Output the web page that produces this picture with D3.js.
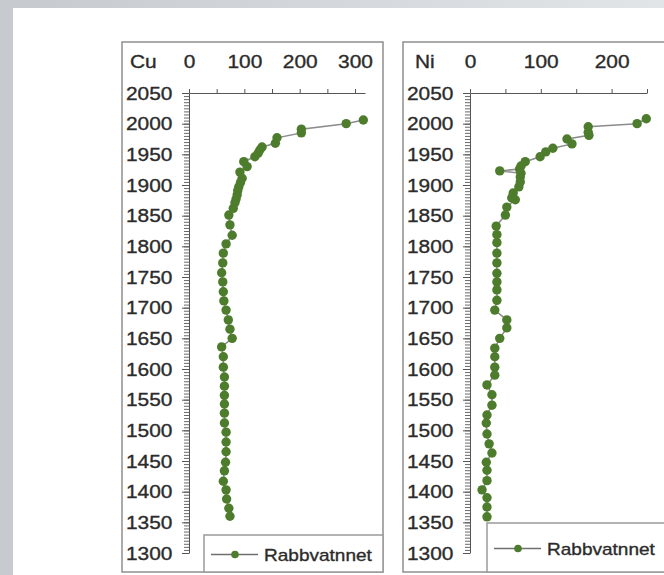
<!DOCTYPE html>
<html>
<head>
<meta charset="utf-8">
<script src="https://cdn.jsdelivr.net/npm/d3@7"></script>
<style>
  html, body { margin: 0; padding: 0; background: #fff; }
  svg { display: block; }
  text { font-family: "Liberation Sans", Arial, sans-serif; fill: #2b2b2b; stroke: #2b2b2b; stroke-width: 0.35px; }
</style>
</head>
<body>
<svg id="chart" width="664" height="575"></svg>
<script>
// year ticks / x ticks
var yearTicks = d3.range(1300, 2051, 50);
var cuTicks = [0, 50, 100, 150, 200, 250, 300];
var niTicks = [0, 50, 100, 150, 200, 250];
var seriesName = "Rabbvatnnet";

// Cu core (year, value)
var cuYears = [2006, 2000, 1991, 1985, 1977, 1968, 1962, 1957, 1952, 1946, 1938, 1930, 1921, 1911, 1904,
  1897, 1891, 1884, 1877, 1871, 1862, 1851, 1835, 1818, 1804, 1789, 1773, 1757, 1742, 1726, 1711, 1696,
  1680, 1665, 1650, 1636, 1620, 1603, 1587, 1572, 1557, 1543, 1528, 1512, 1497, 1481, 1465, 1448, 1434,
  1417, 1403, 1388, 1373, 1360];
var cuValues = [315, 284, 203, 203, 159, 156, 132, 128, 125, 119, 99, 105, 92, 96, 93,
  90, 88, 87, 85, 83, 80, 72, 74, 78, 67, 62, 61, 59, 61, 62, 63, 67,
  71, 74, 78, 59, 62, 62, 64, 64, 64, 64, 64, 64, 67, 67, 67, 66, 64,
  62, 67, 68, 72, 74];

// Ni core (year, value)
var niYears = [2008, 2000, 1995, 1986, 1981, 1975, 1967, 1960, 1954, 1946, 1938, 1931, 1926, 1923, 1919, 1913,
  1905, 1897, 1887, 1879, 1876, 1864, 1851, 1833, 1819, 1806, 1789, 1773, 1756, 1742, 1729, 1712, 1696,
  1680, 1667, 1650, 1634, 1620, 1603, 1590, 1574, 1558, 1541, 1525, 1512, 1494, 1478, 1463, 1448, 1435,
  1418, 1403, 1390, 1375, 1359];
var niValues = [249, 236, 167, 167, 168, 137, 144, 117, 107, 99, 78, 72, 70, 42, 72, 71,
  71, 69, 61, 59, 64, 52, 50, 37, 38, 38, 38, 38, 38, 38, 38, 38, 35,
  52, 52, 42, 35, 35, 35, 35, 24, 31, 31, 24, 23, 24, 27, 31, 23, 24,
  24, 17, 24, 24, 24];

var svg = d3.select("#chart");

// grey page frame like the screenshot
var defs = svg.append("defs");
var grad = defs.append("linearGradient").attr("id", "bg").attr("x1", 0).attr("y1", 0).attr("x2", 1).attr("y2", 0);
grad.append("stop").attr("offset", "0%").attr("stop-color", "#c6cacf");
grad.append("stop").attr("offset", "100%").attr("stop-color", "#e2e5e8");
svg.append("rect").attr("width", 664).attr("height", 575).attr("fill", "url(#bg)");
svg.append("rect").attr("x", 13).attr("y", 8).attr("width", 651).attr("height", 567).attr("fill", "#fff");

var y = d3.scaleLinear().domain([1300, 2050]).range([553, 93]);
var green = "#4d7d2c";
var sx = 1.1; // horizontal stretch of the lettering

function panel(opt) {
  var g = svg.append("g");
  var data = opt.years.map(function (yr, i) { return { yr: yr, v: opt.values[i] }; });
  var x = d3.scaleLinear().domain(opt.domain).range(opt.range);
  var x0 = opt.range[0];

  // frame
  g.append("rect")
    .attr("x", opt.box[0]).attr("y", 42)
    .attr("width", opt.box[1] - opt.box[0]).attr("height", 530)
    .attr("fill", "#fff").attr("stroke", "#8f8f8f").attr("stroke-width", 1.5);

  // minor year ticks
  g.append("g")
    .attr("transform", "translate(" + x0 + ",0)")
    .call(d3.axisLeft(y).tickValues(d3.range(1300, 2051, 5)).tickSize(5).tickFormat(""))
    .call(function (a) { a.select(".domain").remove(); a.selectAll("line").attr("stroke", "#6a6a6a"); });

  // major year axis
  var ya = g.append("g")
    .attr("transform", "translate(" + x0 + ",0)")
    .call(d3.axisLeft(y).tickValues(yearTicks).tickSize(7).tickSizeOuter(0).tickPadding(8).tickFormat(d3.format("d")));
  ya.select(".domain").attr("stroke", "#555");
  ya.selectAll("line").attr("stroke", "#555");
  ya.selectAll("text").style("font-size", "19px").attr("fill", "#2b2b2b")
    .attr("transform", "scale(" + sx + ",1)");

  // top value axis
  var xa = g.append("g")
    .attr("transform", "translate(0," + y(2050) + ")")
    .call(d3.axisTop(x).tickValues(opt.ticks).tickSize(4).tickSizeOuter(0).tickPadding(21)
      .tickFormat(function (d) { return d % 100 === 0 ? d : ""; }));
  xa.select(".domain").attr("stroke", "#555");
  xa.selectAll("line").attr("stroke", "#555");
  xa.selectAll("text").style("font-size", "19px").attr("fill", "#2b2b2b")
    .attr("transform", "scale(" + sx + ",1)");

  // element name
  g.append("text")
    .attr("transform", "translate(" + opt.labelX + ",68) scale(" + sx + ",1)")
    .style("font-size", "19px")
    .text(opt.name);

  // series
  var line = d3.line().x(function (d) { return x(d.v); }).y(function (d) { return y(d.yr); });
  g.append("path").datum(data)
    .attr("d", line).attr("fill", "none")
    .attr("stroke", "#8c8c8c").attr("stroke-width", 1.5);
  g.selectAll("circle.pt").data(data).enter().append("circle")
    .attr("class", "pt")
    .attr("cx", function (d) { return x(d.v); })
    .attr("cy", function (d) { return y(d.yr); })
    .attr("r", 4.7).attr("fill", green);

  // legend
  var lg = opt.legend;
  g.append("rect")
    .attr("x", lg.x).attr("y", lg.y)
    .attr("width", lg.w).attr("height", 572 - lg.y)
    .attr("fill", "#fff").attr("stroke", "#9a9a9a").attr("stroke-width", 1.5);
  var ly = lg.y + (572 - lg.y) / 2 + 1;
  g.append("line")
    .attr("x1", lg.x + 7).attr("x2", lg.x + 54).attr("y1", ly).attr("y2", ly)
    .attr("stroke", "#6f6f6f").attr("stroke-width", 1.5);
  g.append("circle").attr("cx", lg.x + 31).attr("cy", ly).attr("r", 3.8).attr("fill", green);
  g.append("text")
    .attr("transform", "translate(" + (lg.x + 60) + "," + (ly + 6) + ") scale(1.12,1)")
    .style("font-size", "17px")
    .text(seriesName);
}

panel({ name: "Cu", years: cuYears, values: cuValues, domain: [0, 318], range: [189, 365],
  ticks: cuTicks, box: [122, 383], labelX: 130,
  legend: { x: 204, y: 535, w: 179 } });

panel({ name: "Ni", years: niYears, values: niValues, domain: [0, 250], range: [470, 647],
  ticks: niTicks, box: [403, 700], labelX: 415,
  legend: { x: 487, y: 523, w: 200 } });
</script>
</body>
</html>
